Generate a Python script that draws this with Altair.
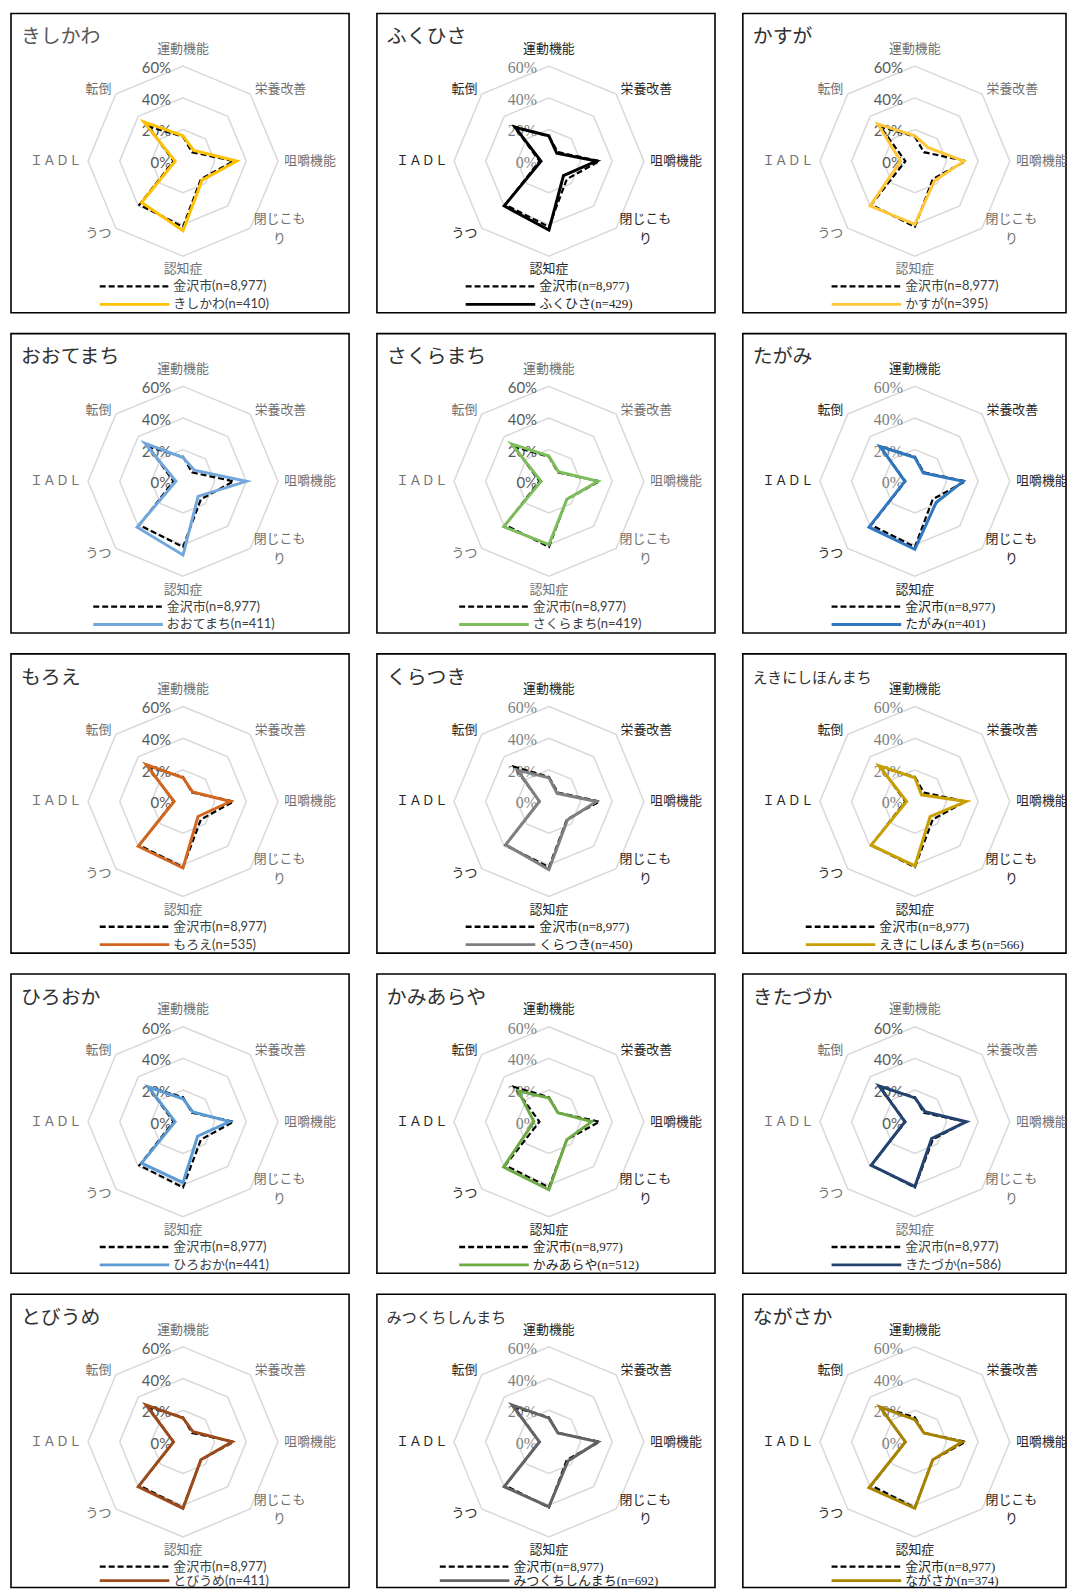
import altair as alt
import pandas as pd

# ---------------- data ----------------
CATEGORIES = ["運動機能", "栄養改善", "咀嚼機能", "閉じこもり", "認知症", "うつ", "ＩＡＤＬ", "転倒"]
RING_LEVELS = [0.0, 0.2, 0.4, 0.6]
RING_LABELS = ["0%", "20%", "40%", "60%"]

CITY_NAME = "金沢市"
CITY_N = "8,977"
CITY_VALUES = [15.5, 8, 32, 16, 41.5, 39, 6, 31]

DISTRICTS = ["きしかわ", "ふくひさ", "かすが",
             "おおてまち", "さくらまち", "たがみ",
             "もろえ", "くらつき", "えきにしほんまち",
             "ひろおか", "かみあらや", "きたづか",
             "とびうめ", "みつくちしんまち", "ながさか"]
DISTRICT_N = ["410", "429", "395", "411", "419", "401", "535", "450", "566",
              "441", "512", "586", "411", "692", "374"]
DISTRICT_VALUES = [
    [16, 9.5, 34, 17, 44, 37, 5, 35],
    [16, 7, 30, 13, 43.5, 40, 5, 30],
    [16, 12, 31, 17.5, 40, 40, 9, 33],
    [15, 10, 40, 13.5, 46.5, 41, 4.5, 34],
    [16, 8.5, 31, 16, 40, 40.5, 5, 33.5],
    [15, 7.5, 30.5, 19, 43, 41, 6.3, 31],
    [15, 8.6, 30, 13.4, 42, 40, 5.6, 33],
    [15, 7.3, 30, 16.5, 43, 38.6, 6, 28],
    [15, 6, 32.5, 13.6, 40.7, 39, 5.2, 32],
    [14.5, 8.8, 29.5, 13, 38.5, 37, 5, 31],
    [15, 8, 27, 16, 43, 40.5, 9.5, 27.5],
    [15, 9, 32.6, 15, 41, 39, 6.3, 32],
    [15, 9, 31, 16, 42, 40, 6, 33],
    [15, 8, 31, 17, 41, 40, 6, 33],
    [14, 8, 30, 16, 42, 41, 6, 31],
]
DISTRICT_COLORS = ["#FFC000", "#000000", "#FFC737",
                   "#72A7DB", "#7EBD5B", "#2F77C0",
                   "#D2661F", "#7F7F7F", "#C9A000",
                   "#5B9BD5", "#6DAA44", "#24426F",
                   "#9C4A1A", "#636363", "#A88300"]
SERIF_PANELS = [False, True, False,
                False, False, True,
                False, True, True,
                False, True, False,
                False, True, True]

# ---------------- layout ----------------
COL_W = [340, 340, 325]
ROW_H = [301, 301, 301, 301, 295]
CX, CY = 173, 148.5
PX = 95.5 / 0.6
LABEL_R = 0.64

SANS = "Lato, Noto Sans CJK JP"
SERIF = "Liberation Serif, Noto Sans CJK JP"


def polar(ch):
    return (ch.transform_calculate(ang="datum.i * PI / 4")
              .transform_calculate(x="datum.r * sin(datum.ang)", y="datum.r * cos(datum.ang)"))


def wrap(c):
    return c if len(c) <= 4 else c[:4] + "\n" + c[4:]


def text_width(s, size=13):
    return sum(size * 0.5 if ord(ch) < 128 else size for ch in s)


def panel(k, w, h):
    X = alt.X("x:Q", scale=alt.Scale(domain=[-CX / PX, (w - CX) / PX], nice=False, zero=False), axis=None)
    Y = alt.Y("y:Q", scale=alt.Scale(domain=[-(h - CY) / PX, CY / PX], nice=False, zero=False), axis=None)

    name = DISTRICTS[k]
    serif = SERIF_PANELS[k]
    font = SERIF if serif else SANS
    title_color = "#595959" if k == 0 else "#303030"
    lab_color = "#262626" if serif else "#707070"
    ring_color_txt = "#808080" if serif else "#595959"
    leg_color = "#262626" if serif else "#404040"
    col = DISTRICT_COLORS[k]
    clip = True
    leg_y = [274.5, 292.5] if h >= 300 else [274, 288]

    city_lab = f"{CITY_NAME}(n={CITY_N})"
    dist_lab = f"{name}(n={DISTRICT_N[k]})"

    rings = pd.DataFrame([{"ring": lv, "i": i, "r": lv}
                          for lv in RING_LEVELS[1:] for i in range(8)])
    ring_layer = polar(alt.Chart(rings)).mark_line(
        interpolate="linear-closed", color="#d9d9d9", strokeWidth=1.5
    ).encode(x=X, y=Y, detail="ring:N", order="i:Q")

    ring_txt = pd.DataFrame({"i": [0] * 4, "r": RING_LEVELS, "t": RING_LABELS})
    ring_txt_layer = polar(alt.Chart(ring_txt)).mark_text(
        align="right", baseline="middle", dx=-12, dy=2, font=font,
        fontSize=16 if serif else 15, color=ring_color_txt
    ).encode(x=X, y=Y, text="t:N")

    city_df = pd.DataFrame({"series": city_lab, "i": range(8),
                            "r": [v / 100 for v in CITY_VALUES]})
    dist_df = pd.DataFrame({"series": dist_lab, "i": range(8),
                            "r": [v / 100 for v in DISTRICT_VALUES[k]]})

    city_layer = polar(alt.Chart(city_df)).mark_line(
        interpolate="linear-closed", strokeWidth=2.2, color="#000000", strokeDash=[6, 3]
    ).encode(x=X, y=Y, order="i:Q")
    dist_layer = polar(alt.Chart(dist_df)).mark_line(
        interpolate="linear-closed", strokeWidth=3, color=col
    ).encode(x=X, y=Y, order="i:Q")

    cats = pd.DataFrame({"i": range(8), "r": LABEL_R, "t": [wrap(c) for c in CATEGORIES]})
    base = polar(alt.Chart(cats))
    tstyle = dict(font=font, fontSize=13, color=lab_color, lineBreak="\n", lineHeight=20, clip=clip)
    top_lab = base.transform_filter("datum.i == 0").mark_text(
        align="center", baseline="bottom", dy=-4, **tstyle).encode(x=X, y=Y, text="t:N")
    bot_lab = base.transform_filter("datum.i == 4").mark_text(
        align="center", baseline="top", dy=1, **tstyle).encode(x=X, y=Y, text="t:N")
    left_lab = base.transform_filter("datum.i == 1 || datum.i == 2").mark_text(
        align="left", baseline="middle", **tstyle).encode(x=X, y=Y, text="t:N")
    wrap_lab = base.transform_filter("datum.i == 3").mark_text(
        align="center", baseline="middle", dx=25, dy=-14, **tstyle).encode(x=X, y=Y, text="t:N")
    right_lab = base.transform_filter("datum.i >= 5").mark_text(
        align="right", baseline="middle", **tstyle).encode(x=X, y=Y, text="t:N")

    tsize = 20 if len(name) <= 5 else 15
    title = alt.Chart(pd.DataFrame({"t": [name]})).mark_text(
        align="left", baseline="middle", font=font, fontSize=tsize, color=title_color
    ).encode(x=alt.value(10), y=alt.value(24), text="t:N")

    # legend (two entries) drawn inside the frame
    lx = 175 - (74 + max(text_width(city_lab), text_width(dist_lab))) / 2
    leg_layers = []
    for j, (lab, c, dash, sw) in enumerate([(city_lab, "#000000", [6, 3], 2.4),
                                           (dist_lab, col, [1, 0], 2.8)]):
        ldf = pd.DataFrame({"series": [lab]})
        leg_layers.append(alt.Chart(ldf).mark_rule(
            color=c, strokeDash=dash, strokeWidth=sw, clip=clip
        ).encode(x=alt.value(lx), x2=alt.value(lx + 70), y=alt.value(leg_y[j])))
        leg_layers.append(alt.Chart(ldf).mark_text(
            align="left", baseline="middle", font=font, fontSize=13, color=leg_color, clip=clip
        ).encode(x=alt.value(lx + 74), y=alt.value(leg_y[j]), text="series:N"))

    return alt.layer(ring_layer, ring_txt_layer, city_layer, dist_layer,
                     top_lab, bot_lab, left_lab, wrap_lab, right_lab, title, *leg_layers
                     ).properties(width=w, height=h)


rows = []
for r in range(5):
    row = alt.hconcat(*[panel(r * 3 + c, COL_W[c], ROW_H[r]) for c in range(3)], spacing=26)
    row = row.resolve_scale(x="independent", y="independent")
    rows.append(row)

chart = alt.vconcat(*rows, spacing=19).resolve_scale(
    x="independent", y="independent"
).properties(
    padding={"left": 2, "top": 0, "right": 0, "bottom": 0}
).configure_view(stroke="#000000", strokeWidth=1.6)

chart.save("out.html", embed_options={"renderer": "svg", "actions": False})
